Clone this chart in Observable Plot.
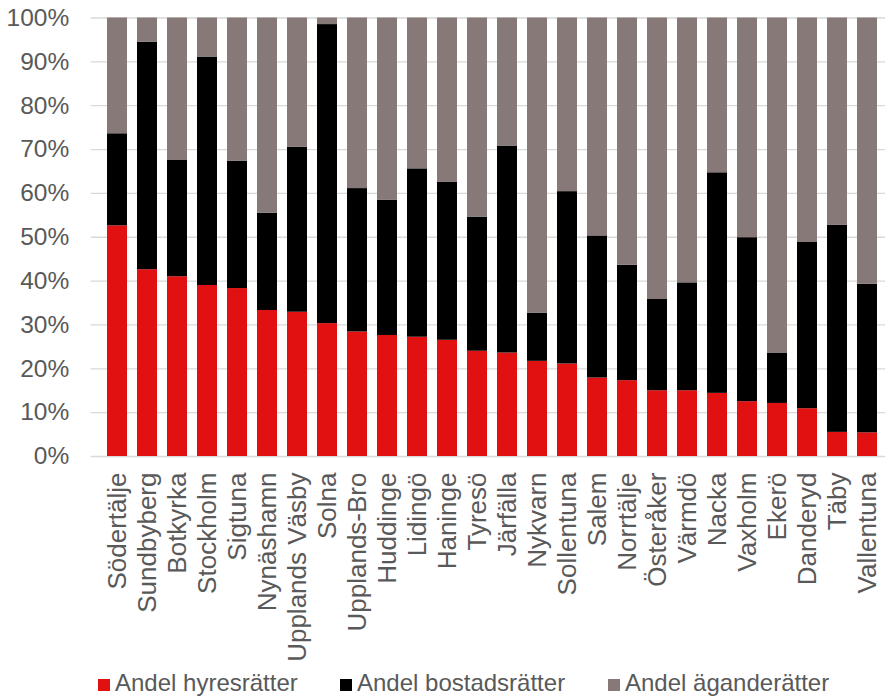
<!DOCTYPE html>
<html>
<head>
<meta charset="utf-8">
<script src="https://cdn.jsdelivr.net/npm/d3@7"></script>
<script src="https://cdn.jsdelivr.net/npm/@observablehq/plot@0.6"></script>
<style>
  html, body { margin: 0; padding: 0; background: #fff; }
  body { width: 885px; overflow: hidden; font-family: "Liberation Sans", Arial, sans-serif; }
  #legend { position: relative; height: 35px; font-size: 24px; color: #595959; line-height: 27px; white-space: nowrap; }
  #legend .item { position: absolute; top: 7px; }
  #legend .sw { display: inline-block; width: 12px; height: 12px; margin-right: 5px; vertical-align: baseline; }
</style>
</head>
<body>
<div id="chart"></div>
<div id="legend"></div>
<script>
const categories = ["Södertälje","Sundbyberg","Botkyrka","Stockholm","Sigtuna","Nynäshamn","Upplands Väsby","Solna","Upplands-Bro","Huddinge","Lidingö","Haninge","Tyresö","Järfälla","Nykvarn","Sollentuna","Salem","Norrtälje","Österåker","Värmdö","Nacka","Vaxholm","Ekerö","Danderyd","Täby","Vallentuna"];
const hyres   = [52.6, 42.6, 41.0, 39.0, 38.3, 33.3, 32.9, 30.3, 28.4, 27.6, 27.2, 26.5, 24.0, 23.6, 21.7, 21.1, 17.9, 17.3, 15.0, 15.0, 14.4, 12.5, 12.1, 10.9, 5.5, 5.4];
const bostads = [21.0, 51.9, 26.5, 52.1, 29.0, 22.2, 37.6, 68.2, 32.7, 30.8, 38.4, 36.0, 30.6, 47.2, 11.0, 39.3, 32.4, 26.3, 20.8, 24.6, 50.3, 37.4, 11.5, 37.9, 47.2, 33.9];
const agande  = [26.4, 5.5, 32.5, 8.9, 32.7, 44.5, 29.5, 1.5, 38.9, 41.6, 34.4, 37.5, 45.4, 29.2, 67.3, 39.6, 49.7, 56.4, 64.2, 60.4, 35.3, 50.1, 76.4, 51.2, 47.3, 60.7];
const series = ["Andel hyresrätter", "Andel bostadsrätter", "Andel äganderätter"];
const colors = ["#e11111", "#000000", "#877977"];
const yTicks = [0, 10, 20, 30, 40, 50, 60, 70, 80, 90, 100];

const values = [hyres, bostads, agande];
const data = categories.flatMap((c, i) => series.map((s, j) => ({k: c, s, v: values[j][i]})));
const font = "Liberation Sans, Arial, sans-serif";

const chart = Plot.plot({
  width: 885,
  height: 662,
  marginLeft: 90.7,
  marginRight: -7.8,
  marginTop: 17.5,
  marginBottom: 206,
  style: {fontFamily: font, color: "#595959", background: "#fff"},
  x: {domain: categories, paddingInner: 0.34, paddingOuter: 0.17, label: null, axis: null},
  y: {domain: [0, 100], label: null, axis: null},
  color: {domain: series, range: colors},
  marks: [
    Plot.ruleY(yTicks, {stroke: "#d9d9d9", strokeWidth: 1.3}),
    Plot.barY(data, {x: "k", y: "v", fill: "s"}),
    Plot.text(yTicks, {y: d => d, text: d => d + "%", frameAnchor: "left", textAnchor: "end", dx: -22, fontSize: 24.5, fill: "#595959", fontFamily: font}),
    Plot.text(categories, {x: d => d, y: 0, text: d => d, rotate: -90, textAnchor: "end", lineAnchor: "middle", dy: 16, fontSize: 26, fill: "#595959", fontFamily: font})
  ]
});
document.getElementById("chart").appendChild(chart);

const legend = document.getElementById("legend");
const legendX = [98, 340, 608];
series.forEach((s, i) => {
  const item = document.createElement("span");
  item.className = "item";
  item.style.left = legendX[i] + "px";
  const sw = document.createElement("span");
  sw.className = "sw";
  sw.style.background = colors[i];
  item.appendChild(sw);
  item.appendChild(document.createTextNode(s));
  legend.appendChild(item);
});
</script>
</body>
</html>
